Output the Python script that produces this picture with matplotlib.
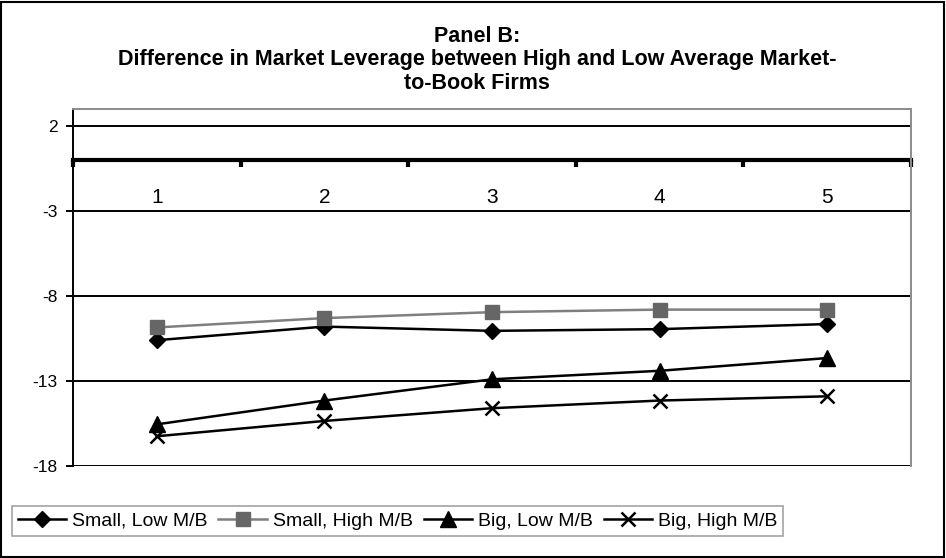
import matplotlib
matplotlib.use("Agg")
import matplotlib.pyplot as plt
from matplotlib.patches import Rectangle
from matplotlib.ticker import FixedLocator

plt.rcParams['font.family'] = ['Liberation Sans', 'DejaVu Sans']

categories = [1, 2, 3, 4, 5]
small_low = [-10.6, -9.8, -10.05, -9.95, -9.65]
small_high = [-9.85, -9.3, -8.95, -8.8, -8.8]
big_low = [-15.55, -14.15, -12.9, -12.4, -11.65]
big_high = [-16.25, -15.35, -14.6, -14.15, -13.9]
series_labels = ["Small, Low M/B", "Small, High M/B", "Big, Low M/B", "Big, High M/B"]
y_ticks = [2, -3, -8, -13, -18]
title_text = ("Panel B:\nDifference in Market Leverage between High and Low Average Market-\n"
              "to-Book Firms")

W, H = 946, 558
fig = plt.figure(figsize=(W / 100, H / 100), dpi=100)
ax = fig.add_axes([73 / W, 1 - 466 / H, (911 - 73) / W, (466 - 109) / H])

ax.set_xlim(0.5, 5.5)
ax.set_ylim(-18, 3)

# horizontal gridlines
for yv in y_ticks:
    ax.axhline(yv, color='black', lw=1.4, zorder=1)

styles = [
    dict(color='black', marker='D', markersize=8.5, markerfacecolor='black', markeredgecolor='black'),
    dict(color='#7f7f7f', marker='s', markersize=10, markerfacecolor='#666666', markeredgecolor='#666666'),
    dict(color='black', marker='^', markersize=11, markerfacecolor='black', markeredgecolor='black'),
    dict(color='black', marker='x', markersize=10, markeredgewidth=1.8),
]
lines = []
for vals, lab, st in zip([small_low, small_high, big_low, big_high], series_labels, styles):
    ln, = ax.plot(categories, vals, lw=1.8, label=lab, zorder=3, clip_on=False, **st)
    lines.append(ln)

# category axis crossing at zero
ax.spines['bottom'].set_position(('data', 0))
ax.spines['bottom'].set_linewidth(3)
ax.spines['bottom'].set_color('black')
ax.spines['bottom'].set_zorder(2)
ax.spines['left'].set_color('black')
ax.spines['left'].set_linewidth(1.4)
for s in ['top', 'right']:
    ax.spines[s].set_color('#8c8c8c')
    ax.spines[s].set_linewidth(1.4)
ax.add_patch(Rectangle((0, 0), 1, 1, transform=ax.transAxes, fill=False,
                       edgecolor='#8c8c8c', lw=1.4, zorder=0.5))

ax.xaxis.set_major_locator(FixedLocator([0.5, 1.5, 2.5, 3.5, 4.5, 5.5]))
ax.xaxis.set_minor_locator(FixedLocator(categories))
ax.tick_params(axis='x', which='major', length=5, width=3, direction='out', labelbottom=False,
               color='black')
ax.tick_params(axis='x', which='minor', length=0, pad=20, labelsize=15)
ax.set_xticks(categories, [str(c) for c in categories], minor=True)

ax.set_yticks(y_ticks)
ax.set_yticklabels([str(v) for v in y_ticks])
ax.tick_params(axis='y', length=5, width=1.4, direction='out', pad=6, labelsize=12.5)

fig.text(0.504, 1 - 60 / H, title_text, ha='center', va='center', fontsize=15.5,
         fontweight='bold', linespacing=1.17)

leg = fig.legend(handles=lines, labels=series_labels, loc='center left',
                 bbox_to_anchor=(12 / W, 1 - 521 / H), ncol=4, frameon=True, fancybox=False,
                 fontsize=14, handlelength=2.5, handletextpad=0.3, columnspacing=0.55,
                 borderpad=0.3, borderaxespad=0)
leg.get_frame().set_edgecolor('#8c8c8c')
leg.get_frame().set_linewidth(1.2)

# outer chart border
fig.add_artist(Rectangle((1 / W, 1 / H), (W - 3) / W, (H - 3) / H, transform=fig.transFigure,
                         fill=False, edgecolor='black', lw=1.5))

fig.savefig('out.png', dpi=100)
